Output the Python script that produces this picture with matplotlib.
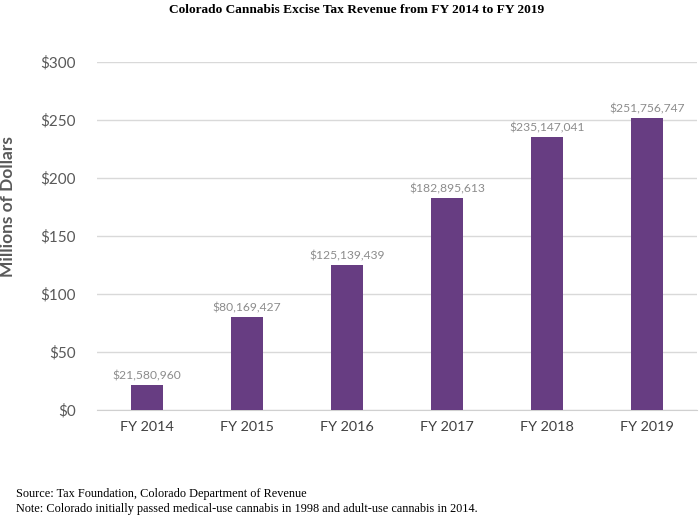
import matplotlib
matplotlib.use("Agg")
import matplotlib.pyplot as plt

categories = ["FY 2014", "FY 2015", "FY 2016", "FY 2017", "FY 2018", "FY 2019"]
revenue = [21580960, 80169427, 125139439, 182895613, 235147041, 251756747]
yticks = [0, 50, 100, 150, 200, 250, 300]
ytick_labels = ["$0", "$50", "$100", "$150", "$200", "$250", "$300"]

purple = "#673d82"
fig = plt.figure(figsize=(7, 5.18), dpi=100)
ax = fig.add_axes([97/700, 1-410/518, 600/700, 348/518])

vals_m = [v/1e6 for v in revenue]
x = range(len(categories))
ax.bar(x, vals_m, width=0.32, color=purple, zorder=3)
for xi, v, raw in zip(x, vals_m, revenue):
    ax.text(xi, v + 3, "${:,}".format(raw), ha="center", va="bottom",
            fontsize=8.7, color="#8c8c8c", family="Lato")

ax.set_xlim(-0.5, len(categories) - 0.5)
ax.set_ylim(0, 300)
ax.set_yticks(yticks)
ax.set_yticklabels(ytick_labels, fontsize=11, color="#595959", family="Lato")
ax.set_xticks(list(x))
ax.set_xticklabels(categories, fontsize=10.4, color="#404040", family="Lato")
ax.tick_params(length=0, pad=8)
ax.tick_params(axis="y", pad=15)
ax.grid(axis="y", color="#d9d9d9", linewidth=1, zorder=0)
for s in ["top", "right", "left"]:
    ax.spines[s].set_visible(False)
ax.spines["bottom"].set_color("#d0d0d0")

fig.text(8.5/700, 1-207/518, "Millions of Dollars", rotation=90,
         ha="center", va="center", fontsize=12.5, fontweight="bold",
         color="#595959", family="Lato")

fig.text(357/700, 1-10/518, "Colorado Cannabis Excise Tax Revenue from FY 2014 to FY 2019",
         ha="center", va="center", fontsize=9.6, fontweight="bold",
         family="Liberation Serif", color="black")
fig.text(16/700, 1-494/518, "Source: Tax Foundation, Colorado Department of Revenue",
         ha="left", va="center", fontsize=8.8, family="Liberation Serif")
fig.text(16/700, 1-509/518,
         "Note: Colorado initially passed medical-use cannabis in 1998 and adult-use cannabis in 2014.",
         ha="left", va="center", fontsize=8.8, family="Liberation Serif")

fig.savefig("out.png", dpi=100, facecolor="white")
